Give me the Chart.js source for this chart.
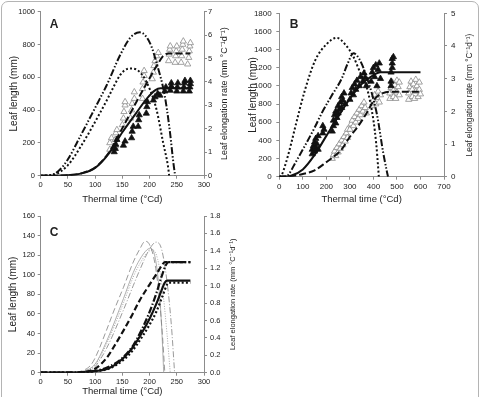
<!DOCTYPE html>
<html lang="en">
<head>
<meta charset="UTF-8">
<title>Leaf elongation</title>
<script src="https://cdn.jsdelivr.net/npm/chart.js"></script>
<style>
  html, body { margin: 0; padding: 0; background: #fff; overflow: hidden; }
  #page { position: relative; width: 481px; height: 397px; overflow: hidden; }
  #frame { position: absolute; left: 1px; top: 1px; width: 476px; height: 420px; border: 1px solid #b4b4b4; border-radius: 7px; }
  canvas { position: absolute; }
</style>
</head>
<body>
<div id="page">
  <div id="frame"></div>
  <canvas id="chartA" width="240" height="212" style="left:0;top:0"></canvas>
  <canvas id="chartB" width="241" height="212" style="left:240px;top:0"></canvas>
  <canvas id="chartC" width="240" height="192" style="left:0;top:205px"></canvas>
</div>
<script>
// ---- panel A : [thermal time, value] ----
const aLengthOpen   = [[0,0],[25,0],[50,3],[75,15],[100,50],[125,140],[150,290],[175,445],[200,595],[215,680],[225,730],[235,745],[275,745]];
const aLengthFilled = [[0,0],[25,0],[50,3],[75,14],[100,48],[125,135],[150,265],[175,380],[195,470],[210,520],[220,533],[275,533]];
const aRateDashDot  = [[0,0],[20,0.03],[35,0.25],[50,0.7],[72,1.65],[90,2.45],[109,3.3],[121,3.85],[146,5.15],[165,5.9],[182,6.12],[201,5.65],[213,4.8],[228,3.4],[237,1.95],[244,0.5],[247,0]];
const aRateDotted   = [[0,0],[25,0.05],[50,0.45],[75,1.3],[100,2.3],[109,2.68],[121,3.2],[133,3.75],[146,4.3],[158,4.55],[167,4.58],[185,4.35],[201,3.66],[213,2.8],[225,1.4],[234,0.38],[236,0]];
const aOpen = [[127,160],[127,200],[130,230],[137,180],[137,220],[138,260],[140,280],
  [150,310],[152,350],[153,390],[155,430],[155,450],
  [165,350],[167,400],[168,440],[172,470],[172,510],
  [187,470],[187,530],[188,570],[190,610],[190,640],
  [205,590],[207,630],[208,670],[210,700],[213,730],[216,750],
  [235,700],[236,740],[237,770],[238,790],
  [247,690],[248,730],[249,760],[250,790],
  [258,690],[259,730],[260,770],[261,800],[262,820],
  [270,680],[272,720],[273,760],[274,790],[275,810]];
const aFilled = [[135,145],[137,165],[138,190],[140,220],
  [152,185],[155,210],[167,230],[168,270],[170,300],
  [179,300],[180,340],[181,370],[194,380],[195,420],[196,450],
  [207,460],[210,480],[215,500],[219,490],
  [228,515],[230,540],[238,520],[240,545],[240,565],
  [250,515],[251,540],[252,565],
  [262,515],[263,540],[264,565],[265,580],
  [273,515],[274,540],[275,560],[275,580]];

// ---- panel B ----
const bLengthFilled = [[0,0],[25,2],[50,10],[100,80],[150,240],[200,450],[250,660],[300,860],[350,1020],[400,1120],[430,1150],[600,1150]];
const bLengthOpen   = [[0,0],[50,5],[100,30],[150,70],[200,160],[250,260],[265,300],[300,440],[336,560],[371,700],[407,860],[440,920],[470,935],[600,935]];
const bRateDotted   = [[0,0],[10,0.05],[25,0.35],[50,1.0],[67,1.5],[109,2.65],[152,3.55],[200,4.05],[244,4.25],[280,4.05],[315,3.67],[343,3.2],[371,2.75],[400,1.73],[412,1.0],[421,0.2],[423,0]];
const bRateDashDot  = [[0,0],[30,0],[38,0.05],[70,0.45],[109,0.95],[150,1.5],[180,1.94],[220,2.45],[265,3.0],[290,3.45],[315,3.78],[340,3.6],[371,3.06],[414,1.94],[442,0.72],[456,0.2],[462,0]];
const bFilled = [[140,250],[140,300],[145,340],[150,280],[150,380],[155,320],[155,420],[160,360],[165,300],[165,450],
  [185,480],[190,520],[185,560],
  [225,500],[230,560],[230,620],[235,680],[240,590],[240,720],[245,650],[250,780],[250,700],[255,740],[260,820],[265,760],[265,880],[270,840],[275,920],[280,800],
  [300,850],[305,920],[310,980],[315,900],[320,1020],[325,960],[330,1060],[340,1000],[345,1100],[355,1050],[360,1140],[365,1090],[370,1000],
  [390,1050],[395,1150],[400,1200],[405,1100],[410,1230],[415,1000],[420,1180],[425,1250],[430,1080],
  [475,1000],[475,1050],[475,1150],[480,1200],[480,1250],[480,1300],[485,1320]];
const bOpen = [[225,200],[230,240],[235,280],[240,230],[245,320],[250,270],[255,360],[260,310],[265,400],[270,350],[275,440],[280,390],[285,480],[290,430],[290,520],
  [300,520],[305,580],[310,620],[315,560],[320,660],[325,600],[330,700],[335,640],[340,740],[345,680],[350,780],[355,720],[360,820],[365,760],[370,700],
  [395,780],[400,840],[405,900],[410,800],[415,870],[420,940],[425,820],[430,900],
  [470,860],[470,920],[475,980],[480,1040],[485,880],[485,950],[490,1010],[495,860],[500,930],[500,1060],[505,990],[510,900],[510,1040],
  [550,850],[550,920],[555,990],[560,1050],[565,880],[565,960],[570,1020],[575,860],[580,940],[580,1070],[585,1000],[590,880],[595,960],[595,1040],[600,910]];

// ---- panel C ----
const cLengthDash    = [[0,0],[50,0],[75,0.5],[91,2],[100,4],[121,15],[135,27],[152,43],[168,59],[182,74],[200,90],[213,101],[222,109],[228,113],[275,113]];
const cLengthDashDot = [[0,0],[50,0],[100,2],[125,6],[150,15],[170,28],[182,40],[200,62],[213,82],[222,98],[230,110],[235,113],[275,113]];
const cLengthSolid   = [[0,0],[60,0],[80,0.3],[100,1.5],[127,5],[152,15],[168,25],[182,37],[200,55],[213,71],[222,84],[228,92],[233,94],[275,94]];
const cLengthDot     = [[0,0],[60,0],[80,0.3],[100,1.3],[127,4.5],[152,13],[168,22],[182,33],[200,49],[213,63],[225,80],[232,90],[236,92],[275,92]];
const cRateDash    = [[0,0],[60,0],[75,0.02],[91,0.08],[100,0.17],[121,0.49],[135,0.72],[152,0.98],[170,1.27],[182,1.42],[192,1.51],[200,1.47],[210,1.25],[218,0.85],[224,0.4],[228,0]];
const cRateDashDot = [[0,0],[70,0],[91,0.03],[100,0.07],[121,0.28],[152,0.72],[170,1.0],[182,1.18],[200,1.42],[212,1.5],[222,1.42],[232,1.05],[240,0.55],[246,0]];
const cRateSolid   = [[0,0],[65,0],[80,0.02],[100,0.1],[121,0.36],[152,0.85],[170,1.15],[182,1.3],[195,1.41],[202,1.43],[210,1.33],[217,1.0],[222,0.55],[226,0]];
const cRateDot     = [[0,0],[65,0],[80,0.02],[100,0.09],[121,0.33],[152,0.8],[170,1.1],[182,1.25],[196,1.38],[206,1.41],[215,1.3],[224,0.95],[232,0.45],[238,0]];

const FONT = '"Liberation Sans", Arial, sans-serif';
const TEXT = '#222';
const AXIS = '#8c8c8c';
const RATE_TITLE = 'Leaf elongation rate (mm \u00B0C\u207B\u00B9d\u207B\u00B9)';

const DASHDOTDOT = [7, 2, 1.5, 2, 1.5, 2];
const DOTS = [2, 2.2];

function pts(arr) { return arr.map(([x, y]) => ({ x, y })); }

function curve(arr, axis, dash, width, color) {
  return {
    data: pts(arr), yAxisID: axis, showLine: true, pointRadius: 0,
    borderColor: color || '#111', borderWidth: width, borderDash: dash,
    cubicInterpolationMode: 'monotone', fill: false
  };
}

function marks(arr, filled) {
  return {
    data: pts(arr), yAxisID: 'y', showLine: false, pointStyle: 'triangle', pointRadius: 3.6,
    backgroundColor: filled ? '#111' : '#fff', borderColor: filled ? '#111' : '#8a8a8a', borderWidth: 0.8
  };
}

function axes(p) {
  const tick = (size, pad) => ({ font: { family: FONT, size }, color: TEXT, padding: pad });
  const grid = { display: true, drawOnChartArea: false, drawTicks: true, tickLength: 3, color: AXIS };
  const border = { display: true, color: AXIS, width: 1 };
  const plain = v => String(v);
  return {
    x: {
      type: 'linear', min: 0, max: p.xMax, grid, border,
      ticks: { ...tick(p.tick, 1.8), stepSize: p.xStep, maxRotation: 0, callback: plain },
      title: { display: true, text: 'Thermal time (\u00B0Cd)', color: TEXT, font: { family: FONT, size: 9.5 }, padding: { top: 0, bottom: p.xTitlePad } },
      afterFit: s => { s.height = p.xH; }
    },
    y: {
      position: 'left', min: 0, max: p.yMax, grid, border,
      ticks: { ...tick(p.tick, p.yPad), stepSize: p.yStep, callback: plain },
      title: { display: true, text: 'Leaf length (mm)', color: TEXT, font: { family: FONT, size: 10 }, padding: { top: p.yTitleX - 6, bottom: 0 } },
      afterFit: s => { s.width = p.yW; }
    },
    y2: {
      position: 'right', min: 0, max: p.rMax, grid, border,
      ticks: { ...tick(p.tick, p.rPad), stepSize: p.rStep, callback: p.rFmt || plain },
      afterFit: s => { s.width = p.rW; }
    }
  };
}

const panelText = {
  id: 'panelText',
  afterDraw(chart, args, o) {
    const { ctx, chartArea } = chart;
    ctx.save();
    ctx.fillStyle = TEXT;
    ctx.textAlign = 'center';
    ctx.textBaseline = 'middle';
    ctx.font = 'bold 12px ' + FONT;
    ctx.fillText(o.letter, o.lx, o.ly);
    ctx.translate(o.rx, (chartArea.top + chartArea.bottom) / 2);
    ctx.rotate(-Math.PI / 2);
    ctx.font = o.rSize + 'px ' + FONT;
    ctx.fillText(RATE_TITLE, 0, 0);
    ctx.restore();
  }
};

function makeChart(id, datasets, p, text) {
  return new Chart(document.getElementById(id), {
    type: 'scatter',
    data: { datasets },
    options: {
      responsive: false, animation: false, events: [],
      layout: { padding: { top: p.top, left: 0, right: 0, bottom: 0 } },
      plugins: { legend: { display: false }, tooltip: { enabled: false }, panelText: text },
      scales: axes(p)
    },
    plugins: [panelText]
  });
}

makeChart('chartA', [
  curve(aLengthFilled, 'y', [], 2),
  curve(aLengthOpen, 'y', [7, 3], 2),
  curve(aRateDashDot, 'y2', DASHDOTDOT, 2),
  curve(aRateDotted, 'y2', DOTS, 2),
  marks(aFilled, true),
  marks(aOpen, false)
], { top: 11.7, xMax: 300, xStep: 50, yMax: 1000, yStep: 200, rMax: 7, rStep: 1,
     xH: 36.3, yW: 40.7, rW: 36, tick: 7.5, yPad: 2.7, rPad: 1, xTitlePad: 7.3, yTitleX: 14 },
   { letter: 'A', lx: 54, ly: 25, rx: 225, rSize: 9 });

makeChart('chartB', [
  curve(bLengthFilled, 'y', [], 2),
  curve(bLengthOpen, 'y', [7, 3], 2),
  curve(bRateDashDot, 'y2', DASHDOTDOT, 2),
  curve(bRateDotted, 'y2', DOTS, 2),
  marks(bFilled, true),
  marks(bOpen, false)
], { top: 13.3, xMax: 700, xStep: 100, yMax: 1800, yStep: 200, rMax: 5, rStep: 1,
     xH: 35.3, yW: 39.3, rW: 37, tick: 8, yPad: 4.6, rPad: 4, xTitlePad: 7.3, yTitleX: 13.3 },
   { letter: 'B', lx: 54, ly: 25, rx: 230, rSize: 8.3 });

makeChart('chartC', [
  curve(cLengthSolid, 'y', [], 2.2),
  curve(cLengthDot, 'y', DOTS, 2.2),
  curve(cLengthDash, 'y', [6, 3], 2.2),
  curve(cLengthDashDot, 'y', [7, 2, 1.5, 2], 2.2),
  curve(cRateDash, 'y2', [6, 3], 0.8, '#808080'),
  curve(cRateDashDot, 'y2', [6, 2, 1, 2], 0.8, '#808080'),
  curve(cRateSolid, 'y2', [], 0.8, '#9a9a9a'),
  curve(cRateDot, 'y2', [1, 1.5], 1, '#a8a8a8')
], { top: 11, xMax: 300, xStep: 50, yMax: 160, yStep: 20, rMax: 1.8, rStep: 0.2, rFmt: v => v.toFixed(1),
     xH: 24.3, yW: 40.7, rW: 36, tick: 7.5, yPad: 2.7, rPad: 3, xTitlePad: 0.3, yTitleX: 13.3 },
   { letter: 'C', lx: 54, ly: 28, rx: 233, rSize: 7.5 });
</script>
</body>
</html>
